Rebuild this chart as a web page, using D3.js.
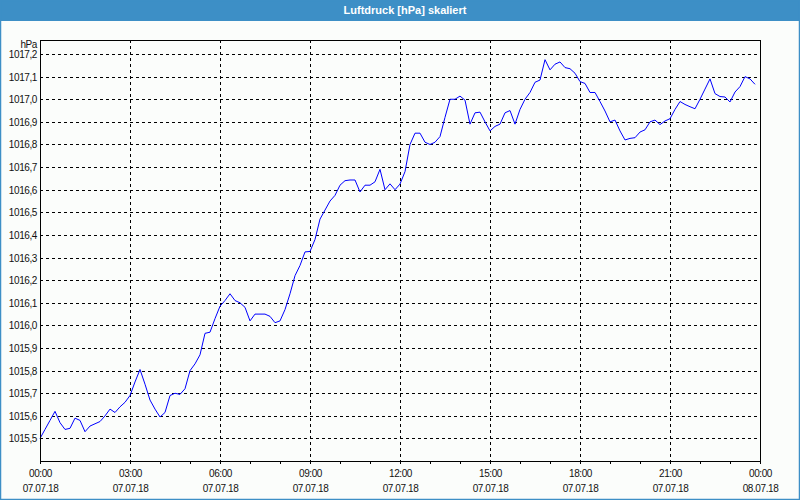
<!DOCTYPE html>
<head>
  <meta charset="utf-8">
  <script src="https://d3js.org/d3.v7.min.js"></script>
  <style>
    body { margin: 0; background: #fbfdfb; }
    svg { display: block; font-family: "Liberation Sans", Arial, sans-serif; }
    .grid line { stroke: #000; stroke-width: 1; stroke-dasharray: 3,3; shape-rendering: crispEdges; }
    .lbl { font-size: 10px; fill: #111; letter-spacing: -0.4px; }
  </style>
</head>
<body>
  <svg id="chart" width="800" height="500"></svg>
  <script>
    // Luftdruck 07.07.18, Messwerte alle 10 Minuten
    var times = [
      "00:00","00:10","00:20","00:30","00:40","00:50",
      "01:00","01:10","01:20","01:30","01:40","01:50",
      "02:00","02:10","02:20","02:30","02:40","02:50",
      "03:00","03:10","03:20","03:30","03:40","03:50",
      "04:00","04:10","04:20","04:30","04:40","04:50",
      "05:00","05:10","05:20","05:30","05:40","05:50",
      "06:00","06:10","06:20","06:30","06:40","06:50",
      "07:00","07:10","07:20","07:30","07:40","07:50",
      "08:00","08:10","08:20","08:30","08:40","08:50",
      "09:00","09:10","09:20","09:30","09:40","09:50",
      "10:00","10:10","10:20","10:30","10:40","10:50",
      "11:00","11:10","11:20","11:30","11:40","11:50",
      "12:00","12:10","12:20","12:30","12:40","12:50",
      "13:00","13:10","13:20","13:30","13:40","13:50",
      "14:00","14:10","14:20","14:30","14:40","14:50",
      "15:00","15:10","15:20","15:30","15:40","15:50",
      "16:00","16:10","16:20","16:30","16:40","16:50",
      "17:00","17:10","17:20","17:30","17:40","17:50",
      "18:00","18:10","18:20","18:30","18:40","18:50",
      "19:00","19:10","19:20","19:30","19:40","19:50",
      "20:00","20:10","20:20","20:30","20:40","20:50",
      "21:00","21:10","21:20","21:30","21:40","21:50",
      "22:00","22:10","22:20","22:30","22:40","22:50",
      "23:00","23:10","23:20","23:30","23:40","23:50"
    ];

    var pressure = [
      1015.500, 1015.540, 1015.580, 1015.620, 1015.570, 1015.540,
      1015.545, 1015.590, 1015.580, 1015.530, 1015.555, 1015.565,
      1015.575, 1015.600, 1015.630, 1015.615, 1015.640, 1015.660,
      1015.690, 1015.750, 1015.805, 1015.740, 1015.670, 1015.630,
      1015.595, 1015.615, 1015.690, 1015.700, 1015.695, 1015.720,
      1015.800, 1015.830, 1015.870, 1015.965, 1015.970, 1016.030,
      1016.085, 1016.110, 1016.140, 1016.110, 1016.100, 1016.080,
      1016.020, 1016.050, 1016.050, 1016.050, 1016.040, 1016.012,
      1016.020, 1016.070, 1016.140, 1016.220, 1016.265, 1016.325,
      1016.327, 1016.380, 1016.470, 1016.510, 1016.550, 1016.575,
      1016.620, 1016.640, 1016.643, 1016.643, 1016.590, 1016.620,
      1016.620, 1016.635, 1016.690, 1016.600, 1016.626, 1016.600,
      1016.625, 1016.680, 1016.800, 1016.850, 1016.850, 1016.810,
      1016.800, 1016.810, 1016.835, 1016.920, 1017.000, 1017.000,
      1017.014, 1016.996, 1016.890, 1016.940, 1016.943, 1016.900,
      1016.860, 1016.880, 1016.890, 1016.940, 1016.950, 1016.890,
      1016.955, 1017.000, 1017.030, 1017.075, 1017.085, 1017.175,
      1017.130, 1017.155, 1017.165, 1017.140, 1017.135, 1017.115,
      1017.078, 1017.070, 1017.030, 1017.030, 1016.990, 1016.948,
      1016.900, 1016.908, 1016.860, 1016.820, 1016.827, 1016.830,
      1016.855, 1016.865, 1016.900, 1016.908, 1016.888, 1016.904,
      1016.914, 1016.955, 1016.990, 1016.977, 1016.967, 1016.958,
      1017.000, 1017.045, 1017.090, 1017.025, 1017.012, 1017.010,
      1016.988, 1017.032, 1017.056, 1017.100, 1017.090, 1017.066
    ];

    var yTicks = [1015.5, 1015.6, 1015.7, 1015.8, 1015.9, 1016.0, 1016.1, 1016.2, 1016.3,
                  1016.4, 1016.5, 1016.6, 1016.7, 1016.8, 1016.9, 1017.0, 1017.1, 1017.2];
    var xMajor = ["2018-07-07T00:00", "2018-07-07T03:00", "2018-07-07T06:00", "2018-07-07T09:00",
                  "2018-07-07T12:00", "2018-07-07T15:00", "2018-07-07T18:00", "2018-07-07T21:00",
                  "2018-07-08T00:00"];
    var yDomain = [1015.4005, 1017.262];
    var title = "Luftdruck [hPa] skaliert";
    var unit = "hPa";

    var parse = d3.timeParse("%Y-%m-%dT%H:%M");
    var data = times.map(function (t, i) {
      return { date: parse("2018-07-07T" + t), value: pressure[i] };
    });

    var svg = d3.select("#chart");
    var W = 800, H = 500;
    var plotL = 40, plotR = 760, plotT = 40, plotB = 461;

    var de = d3.formatLocale({ decimal: ",", thousands: ".", grouping: [3], currency: ["", " €"] });
    var fmtY = de.format(".1f");

    var x = d3.scaleTime()
      .domain([parse(xMajor[0]), parse(xMajor[xMajor.length - 1])])
      .range([plotL, plotR]);
    var y = d3.scaleLinear().domain(yDomain).range([plotB, plotT]);

    // background + window frame
    svg.append("rect").attr("x", 0).attr("y", 0).attr("width", W).attr("height", H)
      .attr("fill", "#fbfdfb");
    svg.append("rect").attr("x", 0).attr("y", 0).attr("width", W).attr("height", 21)
      .attr("fill", "#3d8fc6");
    svg.append("rect").attr("x", 0.5).attr("y", 0.5).attr("width", W - 1).attr("height", H - 1)
      .attr("fill", "none").attr("stroke", "#3d8fc6").attr("stroke-width", 1.5);
    svg.append("text")
      .attr("x", 405).attr("y", 14)
      .attr("text-anchor", "middle")
      .style("font-size", "11px").style("font-weight", "bold").style("fill", "#fff")
      .text(title);

    // grid
    var grid = svg.append("g").attr("class", "grid");
    grid.selectAll(".h").data(yTicks).enter().append("line")
      .attr("x1", plotL).attr("x2", plotR)
      .attr("y1", function (d) { return Math.round(y(d)) + 0.5; })
      .attr("y2", function (d) { return Math.round(y(d)) + 0.5; });
    grid.selectAll(".v").data(xMajor.slice(1, -1)).enter().append("line")
      .attr("y1", plotT).attr("y2", plotB)
      .attr("x1", function (d) { return Math.round(x(parse(d))) + 0.5; })
      .attr("x2", function (d) { return Math.round(x(parse(d))) + 0.5; });

    // x axis ticks (hourly)
    var xAxis = d3.axisBottom(x)
      .ticks(d3.timeHour.every(1))
      .tickSize(3)
      .tickFormat("");
    var gx = svg.append("g").attr("transform", "translate(0," + plotB + ")").call(xAxis);
    gx.select(".domain").remove();
    gx.selectAll("line").attr("stroke", "#000").style("shape-rendering", "crispEdges");

    var fmtT = d3.timeFormat("%H:%M"), fmtD = d3.timeFormat("%d.%m.%y");
    var xl = svg.append("g").attr("class", "lbl");
    xl.selectAll(".t").data(xMajor).enter().append("text")
      .attr("x", function (d) { return x(parse(d)) + 0.5; })
      .attr("y", 477)
      .attr("text-anchor", "middle")
      .text(function (d) { return fmtT(parse(d)); });
    xl.selectAll(".d").data(xMajor).enter().append("text")
      .attr("x", function (d) { return x(parse(d)) + 0.5; })
      .attr("y", 492)
      .attr("text-anchor", "middle")
      .text(function (d) { return fmtD(parse(d)); });

    // y labels
    var yl = svg.append("g").attr("class", "lbl");
    yl.selectAll("text").data(yTicks).enter().append("text")
      .attr("x", 37)
      .attr("y", function (d) { return Math.round(y(d)) + 4; })
      .attr("text-anchor", "end")
      .text(function (d) { return fmtY(d); });
    yl.append("text").attr("x", 37).attr("y", 48).attr("text-anchor", "end").text(unit);

    // line
    svg.append("path")
      .datum(data)
      .attr("fill", "none")
      .attr("stroke", "#0000ff")
      .attr("stroke-width", 1)
      .attr("d", d3.line()
        .x(function (d) { return x(d.date); })
        .y(function (d) { return y(d.value); }));

    // plot frame
    svg.append("rect")
      .attr("x", plotL + 0.5).attr("y", plotT + 0.5)
      .attr("width", plotR - plotL).attr("height", plotB - plotT)
      .attr("fill", "none").attr("stroke", "#000")
      .style("shape-rendering", "crispEdges");
  </script>
</body>
</html>
